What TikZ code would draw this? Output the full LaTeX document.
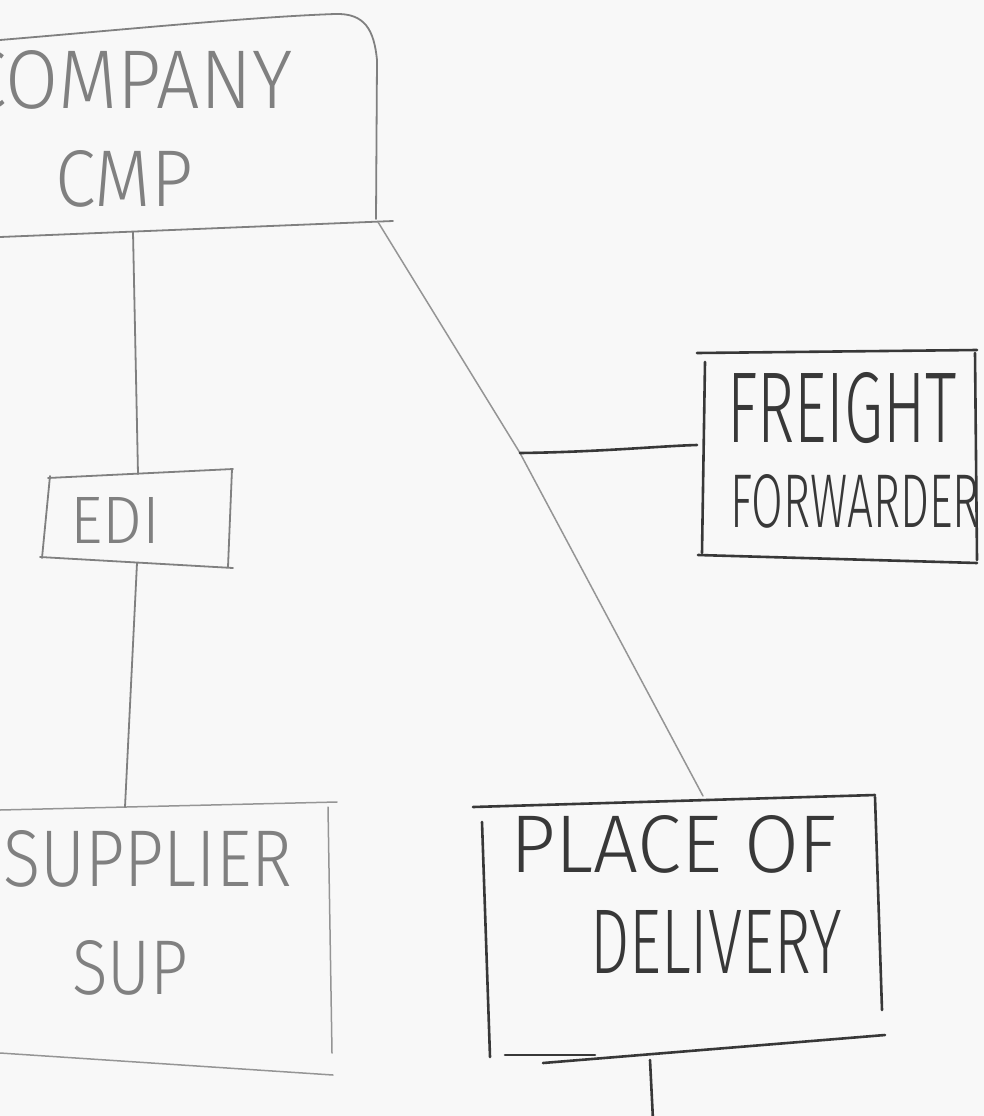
\documentclass[tikz,border=0pt]{standalone}
\usepackage{fontspec}
\setsansfont{Fira Sans}[UprightFont={* Light}]
\definecolor{board}{HTML}{F8F8F8}
\definecolor{inklight}{HTML}{808080}
\definecolor{inkpale}{HTML}{959595}
\definecolor{inkdark}{HTML}{383838}
% hand lettering: text stretched to a given width and height
\newcommand\handtext[3]{\resizebox{#1pt}{#2pt}{\sffamily #3}}
\begin{document}
\begin{tikzpicture}[x=1pt,y=-1pt,line cap=round,line join=round,
  penlight/.style={line width=1.8pt,draw=inklight},
  penpale/.style={line width=1.5pt,draw=inkpale},
  pendark/.style={line width=2.6pt,draw=inkdark},
  lettering/.style={anchor=north west,inner sep=0pt,outer sep=0pt},
  letterlight/.style={lettering,text=inklight},
  letterdark/.style={lettering,text=inkdark}]
\fill[board] (0,0) rectangle (984,1116);
\useasboundingbox (0,0) rectangle (984,1116);

% ---- COMPANY / CMP ----
\draw[penlight] (0,40) .. controls (120,30) and (250,17) .. (335,14)
  .. controls (365,13) and (374,30) .. (377,60) -- (376,219);
\draw[penlight] (0,237) -- (393,221);
\node[letterlight] (company) at (-35,50) {\handtext{327}{58}{COMPANY}};
\node[letterlight] (cmp) at (55,150) {\handtext{138}{56}{CMP}};
\coordinate (cmpB) at (133,232);
\coordinate (cmpC) at (378,222);

% ---- EDI ----
\draw[penlight] (48,478) -- (233,469);
\draw[penlight] (50,476) -- (42,558);
\draw[penlight] (232,469) -- (228,567);
\draw[penlight] (40,557) -- (233,568);
\node[letterlight] (edi) at (70,497) {\handtext{90}{46}{EDI}};
\coordinate (ediT) at (138,474);
\coordinate (ediB) at (137,563);

% ---- SUPPLIER / SUP ----
\draw[penpale] (0,810) -- (337,802);
\draw[penpale] (328,807) -- (332,1053);
\draw[penpale] (0,1053) -- (333,1075);
\node[letterlight] (supplier) at (3,830) {\handtext{289}{56}{SUPPLIER}};
\node[letterlight] (sup) at (72,940) {\handtext{116}{54}{SUP}};
\coordinate (supT) at (125,807);

% ---- FREIGHT FORWARDER ----
\draw[pendark] (697,353) -- (977,350);
\draw[pendark] (705,362) -- (702,553);
\draw[pendark] (975,353) -- (977,560);
\draw[pendark] (698,555) -- (977,563);
\node[letterdark] (freight) at (727,372) {\handtext{230}{70}{FREIGHT}};
\node[letterdark] (forwarder) at (730,474) {\handtext{250}{53}{FORWARDER}};
\coordinate (frL) at (697,445);

% ---- PLACE OF DELIVERY ----
\draw[pendark] (473,807) -- (875,795);
\draw[pendark] (482,822) -- (490,1057);
\draw[pendark] (875,797) -- (882,1010);
\draw[pendark] (543,1063) -- (885,1035);
\draw[pendark] (505,1055) -- (595,1055);
\node[letterdark] (place) at (510,815) {\handtext{327}{57}{PLACE OF}};
\node[letterdark] (delivery) at (590,910) {\handtext{252}{63}{DELIVERY}};
\coordinate (podT) at (703,796);
\coordinate (podB) at (650,1060);
\coordinate (podEnd) at (653,1120);

% ---- connectors ----
\coordinate (split) at (520,453);
\draw[penlight] (cmpB) -- (ediT);
\draw[penlight] (ediB) -- (supT);
\draw[penpale] (cmpC) -- (split) -- (podT);
\draw[pendark] (split) .. controls (600,452) and (660,446) .. (frL);
\draw[pendark] (podB) -- (podEnd);
\end{tikzpicture}
\end{document}
